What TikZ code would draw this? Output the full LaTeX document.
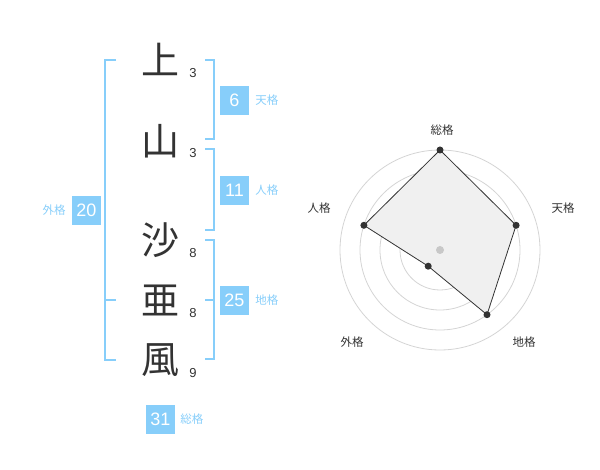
\documentclass[tikz,border=0pt]{standalone}
\usepackage{fontspec}
\setmainfont{Liberation Sans}
\newfontfamily\jp{Noto Sans CJK JP}
\usetikzlibrary{positioning,calc}
\definecolor{sky}{RGB}{135,206,250}
\definecolor{ink}{RGB}{51,51,51}
\definecolor{ring}{RGB}{212,212,212}
\definecolor{area}{RGB}{240,240,240}
\definecolor{hub}{RGB}{200,200,200}

\begin{document}
\begin{tikzpicture}[x=1pt,y=-1pt,
  kanji/.style={font=\jp\fontsize{38}{38}\selectfont,text=ink,inner sep=0pt},
  strk/.style={font=\fontsize{13}{13}\selectfont,text=ink,inner sep=0pt},
  badge/.style={fill=sky,text=white,minimum size=29pt,inner sep=0pt,font=\fontsize{18}{18}\selectfont},
  tag/.style={text=sky,font=\jp\fontsize{11.5}{11.5}\selectfont,inner sep=0pt},
  br/.style={draw=sky,line width=2pt},
  axl/.style={text=ink,font=\jp\fontsize{11.5}{11.5}\selectfont,inner sep=0pt},
  dot/.style={circle,fill=ink,inner sep=0pt,minimum size=7pt}]
  \useasboundingbox (0,0) rectangle (600,470);
  % name
  \node[kanji] (k1) at (160,59) {上};
  \node[kanji] (k2) at (160,141) {山};
  \node[kanji] (k3) at (160,240) {沙};
  \node[kanji] (k4) at (160,300) {亜};
  \node[kanji] (k5) at (160,360) {風};
  \node[strk] (s1) at (193,73) {3};
  \node[strk] (s2) at (193,153) {3};
  \node[strk] (s3) at (193,253) {8};
  \node[strk] (s4) at (193,313) {8};
  \node[strk] (s5) at (193,373) {9};
  % brackets
  \draw[br] (116,60) -- (105,60) -- (105,360) -- (116,360);
  \draw[br] (105,300) -- (116,300);
  \draw[br] (205,60) -- (214,60) -- (214,139) -- (205,139);
  \draw[br] (205,149) -- (214,149) -- (214,230) -- (205,230);
  \draw[br] (205,240) -- (214,240) -- (214,359) -- (205,359);
  \draw[br] (214,300) -- (205,300);
  % scores
  \node[badge] (ten) at (234.5,100.5) {6};
  \node[tag,right=6pt of ten] (tenl) {天格};
  \node[badge] (jin) at (234.5,190.5) {11};
  \node[tag,right=6pt of jin] (jinl) {人格};
  \node[badge] (chi) at (234.5,300.5) {25};
  \node[tag,right=6pt of chi] (chil) {地格};
  \node[badge] (gai) at (86.5,210.5) {20};
  \node[tag,left=6pt of gai] (gail) {外格};
  \node[badge] (sou) at (160.5,419) {31};
  \node[tag,right=5pt of sou] (soul) {総格};
  % radar
  \coordinate (c) at (440,250);
  \foreach \r in {20,40,60,80,100}
    \draw[ring,line width=0.8pt] (c) circle[radius=\r];
  \coordinate (p1) at ($(c)+(0,-100)$);
  \coordinate (p2) at (516.1,225.3);
  \coordinate (p3) at (487.0,314.7);
  \coordinate (p4) at (428.2,266.2);
  \coordinate (p5) at (363.9,225.3);
  \fill[area] (p1) -- (p2) -- (p3) -- (p4) -- (p5) -- cycle;
  \draw[ink,line width=0.8pt] (p1) -- (p2) -- (p3) -- (p4) -- (p5) -- cycle;
  \foreach \p in {p1,p2,p3,p4,p5}
    \node[dot] at (\p) {};
  \fill[hub] (c) circle[radius=4];
  \node[axl] (a1) at (442,130) {総格};
  \node[axl] (a2) at (563,208) {天格};
  \node[axl] (a3) at (524,342) {地格};
  \node[axl] (a4) at (352,342) {外格};
  \node[axl] (a5) at (319,208) {人格};
\end{tikzpicture}
\end{document}
